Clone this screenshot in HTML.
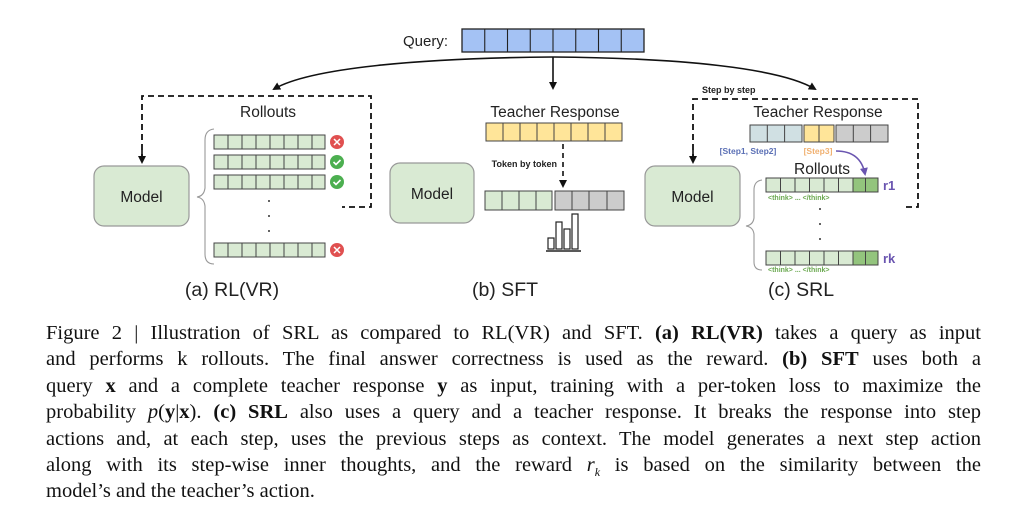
<!DOCTYPE html>
<html><head><meta charset="utf-8"><style>
html,body{margin:0;padding:0;background:#fff;width:1024px;height:527px;overflow:hidden}
svg{position:absolute;left:0;top:0}
.cap{position:absolute;left:46px;top:320px;width:935px;font-family:"Liberation Serif",serif;font-size:20.5px;line-height:26.4px;color:#111}
.cap div{text-align:justify;text-align-last:justify;white-space:nowrap;height:26.4px}
.cap div.last{text-align-last:left}
</style></head><body>
<svg width="1024" height="527" viewBox="0 0 1024 527" font-family="Liberation Sans, sans-serif">
<defs>
<marker id="ah" markerWidth="8" markerHeight="8" refX="6" refY="4" orient="auto" markerUnits="userSpaceOnUse"><path d="M0,0 L8,4 L0,8 z" fill="#111"/></marker>
<marker id="ap" markerWidth="8" markerHeight="8" refX="6" refY="4" orient="auto" markerUnits="userSpaceOnUse"><path d="M0,0 L8,4 L0,8 z" fill="#6a55b0"/></marker>
</defs>
<text x="403" y="46" font-size="15" fill="#222">Query:</text>
<rect x="462" y="29" width="182" height="23" fill="#a4c2f4" stroke="#222" stroke-width="1.3"/>
<g stroke="#222" stroke-width="1.1">
<line x1="484.75" y1="29" x2="484.75" y2="52"/><line x1="507.5" y1="29" x2="507.5" y2="52"/><line x1="530.25" y1="29" x2="530.25" y2="52"/><line x1="553" y1="29" x2="553" y2="52"/><line x1="575.75" y1="29" x2="575.75" y2="52"/><line x1="598.5" y1="29" x2="598.5" y2="52"/><line x1="621.25" y1="29" x2="621.25" y2="52"/>
</g>
<path d="M553,57 C420,58 310,68 274,89" fill="none" stroke="#111" stroke-width="1.6" marker-end="url(#ah)"/>
<path d="M553,57 C680,58 780,68 815,89" fill="none" stroke="#111" stroke-width="1.6" marker-end="url(#ah)"/>
<line x1="553" y1="57" x2="553" y2="88" stroke="#111" stroke-width="1.6" marker-end="url(#ah)"/>

<path d="M142,160 L142,96 L371,96 L371,207 L342,207" fill="none" stroke="#111" stroke-width="1.8" stroke-dasharray="6,4"/>
<line x1="142" y1="150" x2="142" y2="162" stroke="#111" stroke-width="1.6" marker-end="url(#ah)"/>
<rect x="94" y="166" width="95" height="60" rx="10" fill="#d9ead3" stroke="#999" stroke-width="1.2"/>
<text x="141.5" y="202" font-size="15.5" text-anchor="middle" fill="#222">Model</text>
<text x="268" y="117" font-size="15.5" text-anchor="middle" fill="#222">Rollouts</text>
<path d="M214,129 Q205,130 205,140 L205,188 Q204,196 197,197 Q204,198 205,206 L205,254 Q205,264 214,264" fill="none" stroke="#999" stroke-width="1.1"/>
<g fill="#d9ead3" stroke="#444" stroke-width="1">
<rect x="214" y="135" width="111" height="14"/><rect x="214" y="155" width="111" height="14"/><rect x="214" y="175" width="111" height="14"/><rect x="214" y="243" width="111" height="14"/>
</g>
<g stroke="#444" stroke-width="1">
<path d="M228,135v14M242,135v14M256,135v14M270,135v14M284,135v14M298,135v14M312,135v14"/>
<path d="M228,155v14M242,155v14M256,155v14M270,155v14M284,155v14M298,155v14M312,155v14"/>
<path d="M228,175v14M242,175v14M256,175v14M270,175v14M284,175v14M298,175v14M312,175v14"/>
<path d="M228,243v14M242,243v14M256,243v14M270,243v14M284,243v14M298,243v14M312,243v14"/>
</g>
<circle cx="337" cy="142" r="7" fill="#e05050"/><path d="M334,139l6,6M340,139l-6,6" stroke="#fff" stroke-width="1.5"/>
<circle cx="337" cy="162" r="7" fill="#4caf50"/><path d="M333.5,162l2.5,2.5l4.5,-4.5" stroke="#fff" stroke-width="1.6" fill="none"/>
<circle cx="337" cy="182" r="7" fill="#4caf50"/><path d="M333.5,182l2.5,2.5l4.5,-4.5" stroke="#fff" stroke-width="1.6" fill="none"/>
<circle cx="337" cy="250" r="7" fill="#e05050"/><path d="M334,247l6,6M340,247l-6,6" stroke="#fff" stroke-width="1.5"/>
<g fill="#333"><circle cx="269" cy="201" r="1"/><circle cx="269" cy="216" r="1"/><circle cx="269" cy="231" r="1"/></g>
<text x="232" y="296" font-size="19.5" text-anchor="middle" fill="#222">(a) RL(VR)</text>

<rect x="390" y="163" width="84" height="60" rx="10" fill="#d9ead3" stroke="#999" stroke-width="1.2"/>
<text x="432" y="199" font-size="15.5" text-anchor="middle" fill="#222">Model</text>
<text x="555" y="117" font-size="15.5" text-anchor="middle" fill="#222">Teacher Response</text>
<rect x="486" y="123" width="136" height="18" fill="#ffe599" stroke="#444" stroke-width="1"/>
<path d="M503,123v18M520,123v18M537,123v18M554,123v18M571,123v18M588,123v18M605,123v18" stroke="#444" stroke-width="1"/>
<line x1="563" y1="144" x2="563" y2="186" stroke="#111" stroke-width="1.6" stroke-dasharray="5,4" marker-end="url(#ah)"/>
<text x="557" y="167" font-size="9" font-weight="bold" text-anchor="end" fill="#222">Token by token</text>
<rect x="485" y="191" width="67" height="19" fill="#d9ead3" stroke="#444" stroke-width="1"/>
<path d="M502,191v19M519,191v19M536,191v19" stroke="#444" stroke-width="1"/>
<rect x="555" y="191" width="69" height="19" fill="#cccccc" stroke="#444" stroke-width="1"/>
<path d="M572,191v19M589,191v19M607,191v19" stroke="#444" stroke-width="1"/>
<g fill="#fff" stroke="#222" stroke-width="1.2">
<rect x="548" y="238" width="6" height="11"/><rect x="556" y="222" width="6" height="27"/><rect x="564" y="229" width="6" height="20"/><rect x="572" y="214" width="6" height="35"/>
</g>
<line x1="546" y1="251" x2="581" y2="251" stroke="#222" stroke-width="1.4"/>
<text x="505" y="296" font-size="19.5" text-anchor="middle" fill="#222">(b) SFT</text>

<text x="702" y="93" font-size="9" font-weight="bold" fill="#222">Step by step</text>
<path d="M693,160 L693,99 L918,99 L918,207 L906,207" fill="none" stroke="#111" stroke-width="1.8" stroke-dasharray="6,4"/>
<line x1="693" y1="150" x2="693" y2="162" stroke="#111" stroke-width="1.6" marker-end="url(#ah)"/>
<rect x="645" y="166" width="95" height="60" rx="10" fill="#d9ead3" stroke="#999" stroke-width="1.2"/>
<text x="692.5" y="202" font-size="15.5" text-anchor="middle" fill="#222">Model</text>
<text x="818" y="117" font-size="15.5" text-anchor="middle" fill="#222">Teacher Response</text>
<rect x="750" y="125" width="52" height="17" fill="#d0e0e3" stroke="#444" stroke-width="1"/>
<path d="M767.3,125v17M784.6,125v17" stroke="#444" stroke-width="1"/>
<rect x="804" y="125" width="30" height="17" fill="#ffe599" stroke="#444" stroke-width="1"/>
<path d="M819,125v17" stroke="#444" stroke-width="1"/>
<rect x="836" y="125" width="52" height="17" fill="#cccccc" stroke="#444" stroke-width="1"/>
<path d="M853.3,125v17M870.6,125v17" stroke="#444" stroke-width="1"/>
<text x="748" y="154" font-size="8.5" font-weight="bold" text-anchor="middle" fill="#5a6fb5">[Step1, Step2]</text>
<text x="818" y="154" font-size="8.5" font-weight="bold" text-anchor="middle" fill="#f0b070">[Step3]</text>
<path d="M836,151 C852,151 862,158 865,174" fill="none" stroke="#6a55b0" stroke-width="1.6" marker-end="url(#ap)"/>
<text x="822" y="174" font-size="15.5" text-anchor="middle" fill="#222">Rollouts</text>
<path d="M762,180 Q754,181 754,190 L754,218 Q753,225 746,226 Q753,227 754,234 L754,262 Q754,270 762,270" fill="none" stroke="#999" stroke-width="1.1"/>
<rect x="766" y="178" width="87" height="14" fill="#d9ead3" stroke="#444" stroke-width="1"/>
<path d="M780.5,178v14M795,178v14M809.5,178v14M824,178v14M838.5,178v14" stroke="#444" stroke-width="1"/>
<rect x="853" y="178" width="25" height="14" fill="#93c47d" stroke="#444" stroke-width="1"/>
<path d="M865.5,178v14" stroke="#444" stroke-width="1"/>
<text x="883" y="190" font-size="13" font-weight="bold" fill="#6a55b0">r1</text>
<text x="768" y="200" font-size="7" font-weight="bold" fill="#6aa84f">&lt;think&gt; ... &lt;/think&gt;</text>
<g fill="#333"><circle cx="820" cy="209" r="1"/><circle cx="820" cy="224" r="1"/><circle cx="820" cy="239" r="1"/></g>
<rect x="766" y="251" width="87" height="14" fill="#d9ead3" stroke="#444" stroke-width="1"/>
<path d="M780.5,251v14M795,251v14M809.5,251v14M824,251v14M838.5,251v14" stroke="#444" stroke-width="1"/>
<rect x="853" y="251" width="25" height="14" fill="#93c47d" stroke="#444" stroke-width="1"/>
<path d="M865.5,251v14" stroke="#444" stroke-width="1"/>
<text x="883" y="263" font-size="13" font-weight="bold" fill="#6a55b0">rk</text>
<text x="768" y="272" font-size="7" font-weight="bold" fill="#6aa84f">&lt;think&gt; ... &lt;/think&gt;</text>
<text x="801" y="296" font-size="19.5" text-anchor="middle" fill="#222">(c) SRL</text>
</svg>
<div class="cap">
<div>Figure 2 | Illustration of SRL as compared to RL(VR) and SFT. <b>(a) RL(VR)</b> takes a query as input</div>
<div>and performs k rollouts. The final answer correctness is used as the reward. <b>(b) SFT</b> uses both a</div>
<div>query <b>x</b> and a complete teacher response <b>y</b> as input, training with a per-token loss to maximize the</div>
<div>probability <i>p</i>(<b>y</b>|<b>x</b>). <b>(c) SRL</b> also uses a query and a teacher response. It breaks the response into step</div>
<div>actions and, at each step, uses the previous steps as context. The model generates a next step action</div>
<div>along with its step-wise inner thoughts, and the reward <i>r<sub style="font-size:12px">k</sub></i> is based on the similarity between the</div>
<div class="last">model’s and the teacher’s action.</div>
</div>
</body></html>
